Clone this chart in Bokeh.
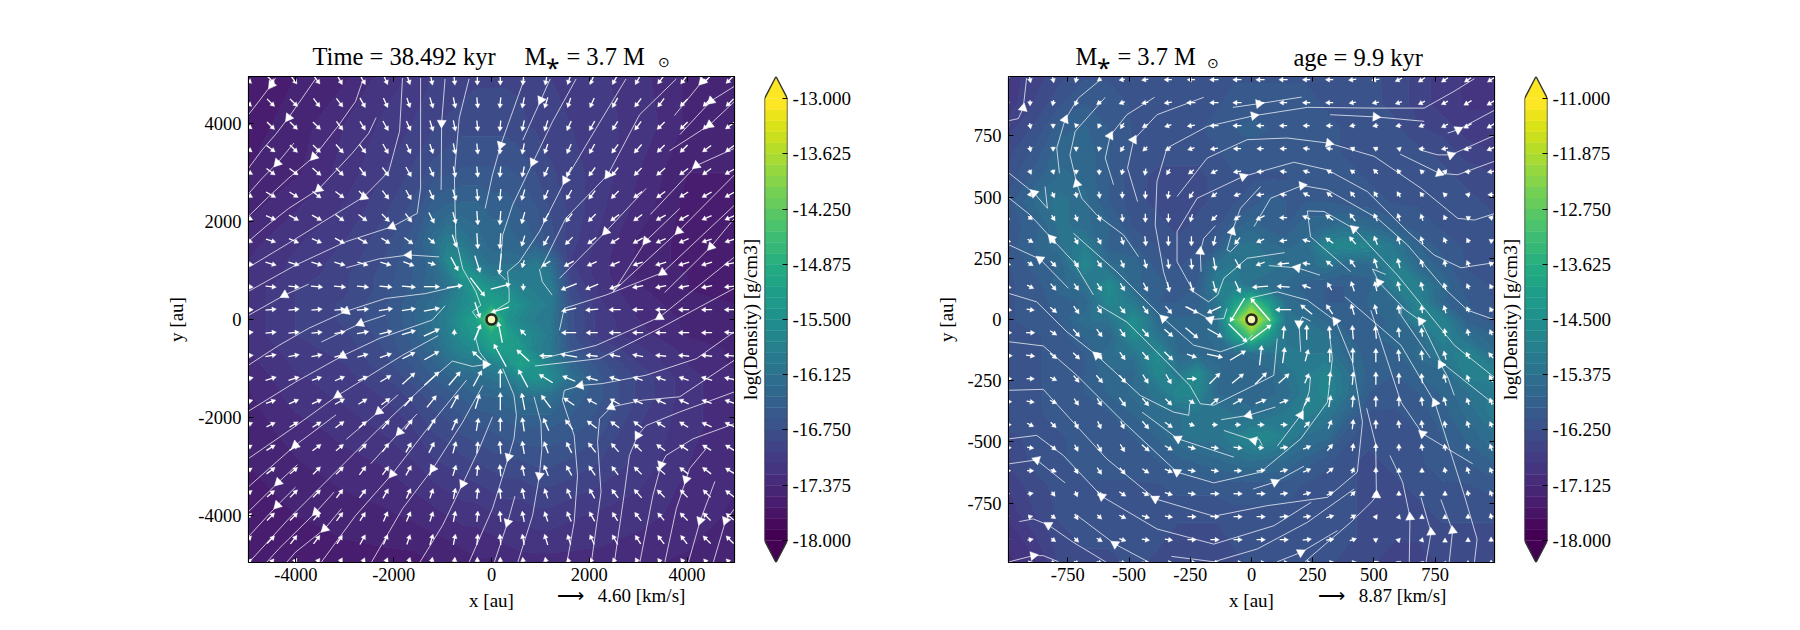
import numpy as np
from bokeh.embed import file_html
from bokeh.layouts import row
from bokeh.models import FixedTicker, Label, LinearAxis, Range1d
from bokeh.palettes import Viridis256, linear_palette
from bokeh.plotting import figure
from bokeh.resources import INLINE

FONT = "Liberation Serif"
FRAME = 486

# ---- left panel -------------------------------------------------------------
left_lim = 4970
left_ticks = [-4000, -2000, 0, 2000, 4000]
left_cb_labels = ["-18.000", "-17.375", "-16.750", "-16.125", "-15.500", "-14.875", "-14.250", "-13.625", "-13.000"]
left_nodes = [-4970, -4000, -3000, -2200, -1600, -1200, -900, -600, -300, 0, 300, 600, 900, 1200, 1600, 2200, 3000, 4000, 4970]
# log density, rows from y=+4970 down to y=-4970
left_density = [
    [-17.6,-17.5,-17.4,-17.2,-17.1,-17.0,-17.0,-16.95,-16.9,-16.9,-16.9,-16.9,-16.95,-17.0,-17.05,-17.1,-17.2,-17.4,-17.5],
    [-17.55,-17.45,-17.25,-17.1,-17.0,-16.9,-16.85,-16.8,-16.8,-16.8,-16.8,-16.85,-16.9,-16.95,-17,-17.1,-17.15,-17.4,-17.45],
    [-17.5,-17.4,-17.2,-17.0,-16.85,-16.7,-16.65,-16.6,-16.6,-16.6,-16.6,-16.65,-16.75,-16.85,-16.95,-17.05,-17.25,-17.5,-17.5],
    [-17.4,-17.25,-17.1,-16.9,-16.7,-16.4,-16.3,-16.3,-16.3,-16.4,-16.4,-16.5,-16.6,-16.75,-16.9,-17.1,-17.3,-17.55,-17.5],
    [-17.3,-17.15,-17,-16.8,-16.55,-16.2,-15.9,-16.0,-16.2,-16.3,-16.3,-16.4,-16.5,-16.7,-16.95,-17.15,-17.4,-17.55,-17.5],
    [-17.25,-17.1,-16.95,-16.75,-16.5,-16.3,-15.6,-15.6,-16,-16.2,-16.2,-16.2,-16.0,-16.2,-17,-17.2,-17.4,-17.55,-17.5],
    [-17.2,-17.1,-16.9,-16.7,-16.5,-16.3,-16.0,-15.3,-15.5,-15.9,-15.9,-15.95,-15.95,-16.0,-16.9,-17.2,-17.4,-17.5,-17.5],
    [-17.2,-17,-16.9,-16.7,-16.45,-16.3,-16.1,-15.7,-15.2,-15.4,-15.5,-15.8,-15.9,-15.9,-16.8,-17.15,-17.35,-17.5,-17.5],
    [-17.2,-17,-16.85,-16.65,-16.4,-16.2,-15.9,-15.6,-15.4,-15.1,-15.3,-15.5,-15.8,-15.9,-16.7,-17.1,-17.3,-17.45,-17.5],
    [-17.2,-17,-16.85,-16.65,-16.4,-16.1,-15.85,-15.4,-15.1,-13.8,-15.4,-15.7,-15.9,-16.0,-16.7,-17.05,-17.25,-17.4,-17.5],
    [-17.2,-17,-16.9,-16.7,-16.45,-16.15,-15.9,-15.5,-15.3,-15.0,-15.1,-15.5,-15.7,-15.95,-16.7,-17.05,-17.2,-17.4,-17.45],
    [-17.25,-17.05,-16.95,-16.75,-16.5,-16.3,-16,-15.7,-15.6,-15.2,-15.2,-15.3,-15.8,-16.0,-16.6,-16.9,-17.1,-17.3,-17.4],
    [-17.3,-17.1,-17,-16.8,-16.6,-16.4,-16.2,-16.0,-16.0,-15.8,-15.5,-15.1,-15.4,-15.8,-16.3,-16.7,-17,-17.25,-17.4],
    [-17.35,-17.15,-17.05,-16.9,-16.7,-16.5,-16.4,-16.3,-16.2,-16.1,-16,-15.6,-15.4,-15.6,-16.1,-16.6,-16.9,-17.2,-17.35],
    [-17.4,-17.2,-17.1,-17,-16.85,-16.7,-16.6,-16.5,-16.4,-16.4,-16.3,-16.2,-16.2,-16.2,-16.4,-16.6,-16.9,-17.2,-17.35],
    [-17.45,-17.3,-17.2,-17.1,-17,-16.85,-16.8,-16.7,-16.65,-16.6,-16.55,-16.5,-16.5,-16.5,-16.55,-16.7,-17,-17.2,-17.35],
    [-17.5,-17.4,-17.3,-17.25,-17.15,-17.05,-17,-16.95,-16.9,-16.85,-16.8,-16.8,-16.75,-16.75,-16.8,-16.9,-17.05,-17.25,-17.35],
    [-17.6,-17.5,-17.45,-17.4,-17.35,-17.3,-17.25,-17.2,-17.2,-17.15,-17.1,-17.1,-17.05,-17.05,-17.1,-17.15,-17.2,-17.3,-17.4],
    [-17.6,-17.6,-17.55,-17.55,-17.55,-17.5,-17.5,-17.45,-17.4,-17.4,-17.35,-17.3,-17.3,-17.3,-17.3,-17.3,-17.35,-17.4,-17.45],
]
# quiver, in pixels of arrow length, rows from the top
left_u = [
    [7,7,6,6,5,5,4,3,2,1,0,0,-1,-2,-3,-4,-5,-5,-6,-6,-7,-7],
    [7,7,7,6,6,5,4,3,3,2,1,-1,-2,-3,-3,-4,-5,-6,-6,-7,-7,-7],
    [8,7,7,7,6,5,5,4,3,2,1,-1,-2,-3,-4,-5,-5,-6,-7,-7,-7,-8],
    [8,8,7,7,7,6,5,4,3,2,1,-1,-2,-3,-4,-5,-6,-7,-7,-7,-8,-8],
    [9,8,8,8,7,6,6,5,4,2,1,-1,-2,-4,-5,-6,-6,-7,-8,-8,-8,-9],
    [9,9,8,8,8,7,6,5,4,3,1,-1,-3,-4,-5,-6,-7,-8,-8,-8,-9,-9],
    [9,9,9,9,8,8,7,6,5,3,1,-1,-3,-5,-6,-7,-8,-8,-9,-9,-9,-9],
    [9,9,9,9,9,9,8,8,6,4,1,-1,-3,-5,-7,-8,-8,-9,-9,-9,-9,-9],
    [10,10,10,10,10,10,10,10,7,7,5,-2,-2,-8,-9,-9,-9,-9,-10,-10,-10,-10],
    [10,10,10,11,11,11,12,13,15,15,14,19,0,0,-15,-12,-10,-10,-10,-10,-10,-10],
    [10,10,10,10,10,11,13,13,15,1,5,-17,-1,-1,-14,-12,-11,-10,-10,-10,-10,-10],
    [10,10,10,10,10,11,12,13,15,0,6,-4,-5,-1,-14,-11,-11,-10,-10,-10,-10,-10],
    [10,10,10,10,10,10,11,12,14,-1,-9,-12,-12,-12,-16,-11,-10,-10,-10,-10,-10,-10],
    [10,10,10,9,9,9,10,12,14,11,8,0,-9,-13,-12,-11,-10,-9,-9,-9,-10,-10],
    [9,9,9,9,9,8,8,8,9,7,4,0,-3,-9,-10,-9,-9,-9,-9,-9,-9,-9],
    [9,8,8,8,8,7,7,7,7,5,2,0,-2,-5,-7,-9,-8,-8,-8,-8,-9,-9],
    [8,8,8,8,7,7,6,5,5,3,1,-1,-2,-4,-5,-7,-7,-7,-8,-8,-8,-8],
    [8,8,7,7,7,6,6,5,4,3,1,-1,-2,-4,-5,-6,-6,-7,-8,-8,-8,-8],
    [8,7,7,7,6,6,5,4,3,2,1,-1,-2,-3,-4,-5,-6,-7,-7,-7,-7,-8],
    [7,7,7,6,6,5,4,4,3,2,1,-1,-2,-3,-4,-5,-5,-6,-6,-7,-7,-7],
    [7,7,6,6,5,5,4,3,3,2,1,-1,-2,-3,-3,-4,-5,-5,-6,-6,-7,-7],
    [7,6,6,6,5,4,4,3,2,1,0,0,-1,-2,-3,-4,-4,-5,-6,-6,-6,-7],
]
left_v = [
    [-7,-7,-8,-8,-9,-9,-9,-9,-10,-10,-10,-10,-10,-10,-9,-9,-9,-9,-8,-8,-7,-7],
    [-7,-7,-7,-8,-8,-9,-9,-9,-10,-10,-10,-10,-10,-10,-9,-9,-9,-8,-8,-7,-7,-7],
    [-6,-7,-7,-7,-8,-8,-9,-9,-10,-10,-10,-10,-10,-10,-9,-9,-8,-8,-7,-7,-7,-6],
    [-6,-6,-7,-7,-8,-8,-9,-9,-9,-10,-10,-10,-10,-9,-9,-9,-8,-8,-7,-7,-6,-6],
    [-5,-6,-6,-7,-7,-8,-8,-9,-9,-10,-10,-10,-10,-9,-9,-8,-8,-7,-7,-6,-6,-5],
    [-5,-5,-5,-6,-6,-7,-8,-9,-9,-10,-11,-11,-10,-9,-9,-8,-7,-6,-6,-5,-5,-5],
    [-4,-4,-5,-5,-6,-6,-7,-8,-10,-11,-13,-13,-11,-9,-8,-7,-6,-6,-5,-5,-4,-4],
    [-3,-3,-4,-4,-5,-5,-5,-6,-5,-12,-15,-15,-10,-9,-7,-6,-5,-5,-4,-4,-3,-3],
    [-2,-3,-3,-3,-3,-3,-3,-4,-2,-13,-16,-20,-7,-5,-5,-4,-4,-3,-3,-3,-3,-2],
    [-1,-1,-1,-1,-1,-1,-1,-1,0,2,-18,5,-6,-1,-6,-5,-4,-2,-2,-2,-2,-1],
    [0,1,1,1,1,1,2,2,3,0,-15,-5,0,0,-3,-1,0,0,0,0,0,0],
    [1,1,1,1,2,2,3,4,7,5,15,20,5,1,0,0,0,0,0,0,0,1],
    [1,2,2,2,3,3,4,6,8,1,8,22,11,0,3,1,2,2,1,1,1,1],
    [2,3,3,3,4,4,6,11,13,13,15,18,17,8,5,3,3,3,3,3,3,2],
    [3,3,4,4,5,5,6,9,11,13,14,17,16,12,7,5,5,4,4,4,3,3],
    [4,4,5,5,6,6,8,9,11,11,12,13,13,12,9,7,6,6,5,5,4,4],
    [5,5,5,6,6,7,8,9,10,11,11,12,12,11,10,9,8,7,6,5,5,5],
    [5,6,6,7,7,8,8,9,9,10,10,11,10,10,9,9,8,7,7,6,6,5],
    [6,6,7,7,8,8,9,9,9,10,10,10,10,9,9,9,8,8,7,7,7,6],
    [6,7,7,7,8,8,9,9,9,10,10,10,10,9,9,9,8,8,7,7,7,6],
    [7,7,8,8,8,9,9,9,10,10,10,10,10,10,9,9,9,8,8,8,7,7],
    [7,7,8,8,9,9,9,10,10,10,10,10,10,10,9,9,9,9,8,8,7,7],
]
left_streams = [
    [(-4420,4940),(-4500,4800),(-4760,4460),(-4970,4190)],
    [(-3600,4920),(-3870,4530),(-4150,4130),(-4420,3780),(-4690,3470),(-4980,3080)],
    [(-2640,4870),(-2780,4460),(-3120,3980),(-3630,3330),(-4150,2890),(-4560,2510),(-4980,2100)],
    [(-4040,3610),(-4380,3200),(-4690,2890),(-4980,2560)],
    [(-2360,4130),(-2510,3810),(-2850,3400),(-3530,2670),(-4150,2270),(-4620,1900),(-4980,1590)],
    [(-1820,4940),(-1880,3850),(-2100,3030),(-2610,2510),(-3330,2070),(-4150,1560),(-4980,1060)],
    [(-1450,4940),(-1450,2680),(-1520,2170),(-2030,1900),(-2980,1590),(-4010,1110),(-4980,570)],
    [(-3740,720),(-4230,500),(-4980,80)],
    [(-1070,1280),(-1690,1320),(-2300,1240),(-2970,1060)],
    [(-660,690),(-1350,530),(-2170,430),(-2970,170),(-3740,-180),(-4350,-530),(-4980,-940)],
    [(-2170,90),(-2680,-80),(-3480,-460)],
    [(-950,280),(-1210,-10),(-2300,-390),(-3040,-740),(-4010,-1280),(-4980,-1880)],
    [(-1090,-330),(-1820,-730),(-3140,-1550),(-4080,-2230),(-4980,-2850)],
    [(-3180,-1950),(-4010,-2570),(-4980,-3430)],
    [(-1910,-1540),(-2300,-1880),(-2970,-2450)],
    [(-1520,-1930),(-1880,-2300),(-2470,-2950)],
    [(-4980,-4990),(-4150,-4080),(-3260,-3190),(-2300,-2230),(-1480,-1450),(-800,-850),(-390,-960),(-120,-920),(-50,-950)],
    [(-3970,-2970),(-4360,-3330),(-4980,-3940)],
    [(-4010,-3430),(-4380,-3800),(-4980,-4450)],
    [(-3220,-3530),(-3590,-3940),(-4350,-4690),(-4620,-4990)],
    [(-3070,-3870),(-3410,-4280),(-4010,-4760),(-4210,-4990)],
    [(-180,-1350),(-590,-2100),(-1200,-3050),(-1820,-3870),(-2470,-4990)],
    [(-510,-1240),(-1210,-2100),(-2030,-3160),(-2780,-4010),(-3500,-4990)],
    [(20,-1990),(-250,-2640),(-590,-3360),(-1000,-4210),(-1480,-4990)],
    [(230,-1000),(460,-1550),(510,-1960),(460,-2440),(350,-2810),(20,-3870),(-470,-4990)],
    [(870,-1580),(1010,-2100),(1030,-2640),(980,-3190),(840,-4010),(530,-4990)],
    [(480,-3610),(330,-4150),(50,-4990)],
    [(4970,-250),(4190,-800),(3160,-1140),(2270,-1310),(1820,-1350),(1490,-1450),(1450,-1650),(1690,-2370),(1760,-3190),(1690,-4150),(1540,-4990)],
    [(4970,-830),(3850,-1580),(3090,-1650),(2450,-1790),(2210,-2030),(2170,-2510),(2240,-3530),(2040,-4990)],
    [(4970,-1480),(3850,-1890),(3160,-2170),(2990,-2370),(2820,-2780),(2720,-3530),(2510,-4990)],
    [(4970,-2130),(4120,-2440),(3570,-2780),(3470,-2970),(3300,-3600),(3030,-4990)],
    [(4390,-2640),(4050,-3050),(3980,-3270),(3780,-3870),(3540,-4990)],
    [(4570,-3310),(4270,-4110),(4020,-4990)],
    [(4970,-3870),(4790,-4110),(4530,-4990)],
    [(-950,4920),(-1020,4020),(-1030,2650)],
    [(-460,4920),(-660,4120),(-760,2960),(-730,1660),(-590,1040),(-320,570),(-220,290),(-390,160),(-290,20)],
    [(670,4920),(190,3570),(20,2960),(-130,2270)],
    [(1200,4920),(1010,4490),(640,3670)],
    [(1730,4920),(1250,4050),(850,3220),(430,2340),(230,1730),(160,940),(290,810)],
    [(2750,4920),(2140,3910),(1510,2850),(980,1800),(570,1180),(330,980),(360,570),(360,360),(50,170)],
    [(3780,4920),(3030,4190),(2380,2960),(1520,2070),(1010,1040)],
    [(4430,4920),(4310,4870),(3740,4170)],
    [(4970,4770),(4490,4470),(3850,3780)],
    [(4970,4460),(4460,3980),(3640,3450)],
    [(4970,3500),(4190,3150),(3250,2150)],
    [(3160,2680),(2340,1800),(1390,840)],
    [(4970,2960),(3830,1810),(2480,570)],
    [(4970,2070),(4490,1490),(3540,550)],
    [(3850,2270),(3160,1610),(2480,550)],
    [(4970,2340),(3500,960),(2340,500),(1490,230),(1390,-220)],
    [(4970,1280),(3440,50),(2140,-530),(1030,-800)],
    [(4970,640),(3500,-150),(2210,-800),(890,-950)],
    [(980,1030),(1040,770),(1240,500)],
    [(-220,-120),(-320,-390),(-250,-660),(-50,-920)],
]
# which vertex of each streamline carries its arrowhead (-1: none)
left_heads = [1,2,3,1,3,3,3,1,1,3,1,3,2,1,1,1,7,1,1,1,1,2,2,2,4,3,1,4,3,3,3,2,1,1,1,-1,1,1,2,2,2,1,1,1,1,1,1,1,1,1,1,-1,-1,-1]

# ---- right panel ------------------------------------------------------------
right_lim = 992
right_ticks = [-750, -500, -250, 0, 250, 500, 750]
right_cb_labels = ["-18.000", "-17.125", "-16.250", "-15.375", "-14.500", "-13.625", "-12.750", "-11.875", "-11.000"]
right_nodes = [-992, -880, -780, -680, -580, -480, -380, -300, -220, -140, -70, 0, 70, 140, 220, 300, 380, 480, 580, 680, 780, 880, 992]
right_density = [
    [-16.7,-16.5,-16.3,-16.1,-16.1,-16.1,-16.1,-16.1,-16.1,-16.1,-16.1,-16.1,-16.1,-16.1,-16.1,-16.2,-16.2,-16.2,-16.3,-16.5,-16.7,-16.8,-16.8],
    [-16.7,-16.4,-16.1,-15.9,-16.0,-16.1,-16.1,-16.1,-16.1,-16.1,-16.0,-16.0,-16.0,-16.0,-16.0,-16.1,-16.1,-16.2,-16.3,-16.5,-16.7,-16.8,-16.8],
    [-16.5,-16.2,-15.8,-15.7,-15.9,-16.1,-16.1,-16.1,-16.1,-16.0,-15.9,-15.8,-15.9,-16,-16,-16,-16.1,-16.2,-16.2,-16.4,-16.5,-16.7,-16.7],
    [-16.3,-16.0,-15.6,-15.6,-15.9,-16.1,-16.2,-16.2,-16.2,-16.1,-16,-16,-16,-16,-16,-16,-16.1,-16.1,-16.2,-16.2,-16.3,-16.5,-16.6],
    [-16.2,-15.8,-15.5,-15.6,-15.9,-16.2,-16.3,-16.3,-16.3,-16.2,-16.1,-16.1,-16.1,-16.1,-16.0,-16.0,-16.0,-16.1,-16.1,-16.1,-16.2,-16.3,-16.4],
    [-16.0,-15.5,-15.3,-15.5,-15.9,-16.2,-16.3,-16.3,-16.3,-16.2,-16.1,-16.0,-15.8,-15.9,-15.9,-15.9,-16.0,-16.0,-16.1,-16.1,-16.1,-16.2,-16.3],
    [-16.0,-15.8,-15.3,-15.5,-15.7,-16.1,-16.2,-16.3,-16.2,-16.1,-15.8,-15.6,-15.8,-15.9,-15.6,-15.6,-15.4,-15.6,-15.8,-16,-16.1,-16.1,-16.2],
    [-16.0,-15.7,-15.4,-15.0,-15.8,-15.9,-16.1,-16.2,-16.1,-15.9,-15.4,-15.3,-15.5,-15.6,-15.5,-14.8,-14.7,-14.8,-15.2,-15.7,-16,-16.1,-16.2],
    [-16.1,-15.8,-15.7,-14.7,-15.5,-15.6,-16.0,-16.1,-16,-15.3,-15.2,-15.3,-15.3,-15.4,-15.5,-15.3,-15.6,-15.6,-14.8,-15.6,-15.8,-16.1,-16.1],
    [-16.1,-16,-15.6,-15.4,-14.6,-15.7,-15.8,-16,-15.9,-15.0,-15.0,-15.4,-15.5,-15.6,-15.8,-15.9,-15.9,-15.8,-15.0,-15.0,-15.6,-16.0,-16.1],
    [-16.1,-16,-15.8,-15.7,-14.7,-15.2,-15.9,-15.9,-15.8,-15.3,-14.2,-12.9,-14.2,-15.4,-15.7,-15.9,-15.9,-15.7,-15.6,-14.8,-15.7,-15.9,-16.1],
    [-16.1,-16,-15.9,-15.4,-15.3,-14.5,-15.6,-15.7,-15.7,-15.4,-12.9,-11.05,-12.9,-15.3,-15.4,-15.6,-15.8,-15.8,-15.7,-14.9,-14.9,-15.8,-16],
    [-16.1,-16.1,-16,-15.7,-15.7,-14.6,-15.3,-15.6,-15.7,-15.4,-14.2,-12.9,-14.2,-15.3,-15.2,-15.3,-15.7,-15.8,-15.6,-15.6,-14.8,-15.4,-15.7],
    [-16.1,-16.1,-16,-15.9,-15.4,-15.3,-14.6,-15.6,-15.6,-15.6,-15.6,-15.5,-15.4,-15.1,-15.2,-15.2,-15.6,-15.8,-15.8,-15.5,-15.2,-14.8,-15.5],
    [-16.1,-16.1,-16,-15.9,-15.6,-15.6,-14.7,-15.2,-14.6,-15.5,-15.7,-15.7,-15.6,-15.3,-15.1,-14.8,-15.3,-15.8,-15.9,-15.7,-15.6,-14.9,-14.9],
    [-16.1,-16.1,-16,-15.9,-15.7,-15.5,-15.3,-14.7,-14.8,-15.6,-15.6,-15.7,-15.6,-15.5,-15.1,-14.7,-15.3,-15.9,-16,-15.9,-15.7,-15.4,-15.1],
    [-16.1,-16.1,-16,-16,-15.9,-15.7,-15.4,-15.4,-15.2,-15.2,-15.4,-15.5,-15.4,-15.2,-14.9,-15.2,-15.6,-16.1,-16.1,-16.0,-15.8,-15.5,-15.1],
    [-16.3,-16.2,-16.1,-16.0,-16,-15.9,-15.7,-15.4,-15.3,-15.3,-15.0,-14.7,-14.7,-15.0,-15.4,-15.5,-16.0,-16.2,-16.1,-16.1,-15.9,-15.7,-15.4],
    [-16.4,-16.2,-16.1,-16,-16,-16,-15.9,-15.8,-15.7,-15.6,-15.5,-15.4,-15.5,-15.6,-15.8,-16,-16.2,-16.3,-16.2,-16.1,-16,-15.9,-15.7],
    [-16.6,-16.3,-16.2,-16.1,-16.1,-16.1,-16.1,-16,-16,-16,-16,-16,-16,-16,-16.1,-16.2,-16.2,-16.3,-16.3,-16.2,-16.1,-16.1,-16],
    [-16.7,-16.4,-16.2,-16.1,-16.1,-16.2,-16.2,-16.2,-16.2,-16.2,-16.1,-16.1,-16.1,-16.1,-16.2,-16.2,-16.2,-16.3,-16.3,-16.3,-16.2,-16.2,-16.2],
    [-16.9,-16.6,-16.3,-16.2,-16.2,-16.2,-16.2,-16.3,-16.3,-16.3,-16.2,-16.2,-16.2,-16.2,-16.2,-16.2,-16.2,-16.3,-16.4,-16.4,-16.3,-16.3,-16.3],
    [-17,-16.8,-16.4,-16.3,-16.3,-16.2,-16.3,-16.3,-16.3,-16.3,-16.3,-16.2,-16.2,-16.2,-16.2,-16.2,-16.3,-16.4,-16.5,-16.5,-16.4,-16.3,-16.3],
]
right_uv = [
    [(0,-2),(1,-5),(1,-5),(-1,-5),(-3,-2),(-5,-1),(-6,-1),(-7,0),(-7,0),(-8,0),(-8,0),(-8,0),(-8,0),(-7,0),(-7,0),(-7,-1),(-7,-1),(-6,-3),(-6,-4),(-6,-4),(-6,-4),(-6,-4)],
    [(1,-6),(0,-5),(-1,-5),(-2,-5),(-4,-3),(-5,-2),(-6,-1),(-7,-1),(-8,0),(-8,0),(-8,0),(-8,0),(-7,0),(-7,0),(-7,0),(-6,-1),(-6,-1),(-6,-2),(-6,-3),(-6,-3),(-7,-4),(-7,-4)],
    [(1,-4),(1,-5),(0,-4),(-1,-3),(-2,-4),(-3,-5),(-5,-3),(-6,-2),(-7,-1),(-8,0),(-8,0),(-7,0),(-7,0),(-6,0),(-6,0),(-5,-1),(-5,-1),(-5,-1),(-5,-2),(-6,-3),(-7,-4),(-7,-4)],
    [(2,-3),(1,-5),(0,-4),(0,-4),(-1,-4),(-3,-5),(-4,-4),(-5,-3),(-6,-2),(-7,-1),(-7,0),(-6,0),(-6,0),(-6,1),(-6,1),(-4,2),(-4,2),(-3,1),(-5,0),(-6,-1),(-7,-2),(-7,-3)],
    [(2,-4),(2,-4),(1,-4),(0,-4),(0,-5),(-1,-5),(-1,-6),(-3,-5),(-5,-4),(-6,-3),(-7,-1),(-6,0),(-6,1),(-6,2),(-5,3),(-4,3),(-4,4),(-3,4),(-3,3),(-4,1),(-5,0),(-6,-1)],
    [(3,-3),(2,-3),(2,-5),(1,-5),(1,-6),(0,-6),(0,-7),(-1,-7),(-4,-6),(-5,-4),(-6,-2),(-7,-1),(-6,1),(-6,3),(-5,4),(-4,5),(-3,5),(-3,5),(-3,4),(-3,3),(-4,1),(-5,0)],
    [(4,-3),(4,-3),(3,-5),(2,-6),(2,-6),(1,-7),(0,-8),(0,-8),(-2,-7),(-5,-5),(-6,-4),(-8,-4),(-7,0),(-7,3),(-7,5),(-5,7),(-3,7),(-2,7),(-2,6),(-2,4),(-3,2),(-4,1)],
    [(6,-2),(5,-3),(4,-5),(3,-6),(3,-6),(2,-7),(1,-9),(0,-9),(0,-9),(-2,-9),(-5,-6),(-7,-3),(-7,-1),(-7,2),(-7,5),(-6,7),(-3,8),(-2,7),(-2,7),(-2,5),(-2,4),(-3,2)],
    [(6,-2),(5,-3),(5,-5),(4,-6),(4,-6),(3,-7),(2,-8),(1,-9),(1,-10),(2,-12),(5,-9),(-8,-3),(-11,-1),(-7,1),(-6,5),(-5,7),(-3,9),(-2,9),(-2,7),(-1,6),(-2,5),(-3,3)],
    [(7,-2),(6,-3),(5,-6),(4,-6),(4,-7),(4,-7),(4,-8),(2,-9),(3,-10),(3,-11),(5,-11),(-15,-1),(-12,1),(-8,3),(-4,7),(-3,9),(-2,9),(-2,9),(-2,8),(-2,6),(-2,5),(-2,4)],
    [(8,-1),(7,-1),(6,-5),(5,-7),(4,-6),(5,-6),(5,-7),(6,-7),(12,-6),(-13,-6),(-14,-23),(-19,22),(-15,0),(-11,9),(-6,9),(-3,10),(-2,9),(-1,8),(-1,7),(-2,7),(-2,5),(-2,4)],
    [(8,0),(8,0),(6,-4),(6,-7),(5,-7),(5,-7),(6,-7),(8,-7),(12,-10),(14,-8),(18,-18),(20,15),(1,12),(0,14),(-1,12),(-1,13),(-1,12),(-1,9),(-1,8),(-1,7),(-1,6),(-2,5)],
    [(9,0),(8,-1),(6,-5),(6,-6),(5,-6),(5,-7),(6,-7),(8,-8),(9,-3),(15,-3),(15,9),(2,19),(2,15),(3,11),(0,13),(0,14),(0,13),(-1,11),(-1,9),(-2,8),(-3,6),(-4,5)],
    [(8,0),(7,0),(6,-3),(5,-6),(6,-7),(6,-7),(5,-8),(5,-9),(9,0),(10,10),(11,9),(11,11),(10,9),(4,9),(1,12),(1,12),(0,12),(0,10),(-1,9),(-2,8),(-2,6),(-3,6)],
    [(8,0),(7,-1),(6,-3),(4,-6),(4,-7),(6,-8),(6,-7),(6,-6),(5,-3),(7,6),(9,5),(10,4),(8,3),(5,8),(2,11),(1,11),(0,10),(0,9),(-1,8),(-2,8),(-2,6),(-2,6)],
    [(7,0),(6,-3),(5,-5),(3,-7),(3,-7),(3,-7),(6,-7),(7,-5),(5,-2),(5,0),(5,0),(6,0),(6,0),(5,5),(3,8),(1,9),(0,8),(-1,7),(-1,7),(-1,6),(-2,6),(-2,5)],
    [(7,0),(6,-1),(5,-4),(3,-6),(4,-7),(4,-7),(7,-6),(7,-4),(7,-2),(7,-1),(8,-1),(5,0),(7,1),(7,3),(5,6),(1,7),(0,7),(0,6),(-1,6),(-1,6),(-2,6),(-2,6)],
    [(6,0),(6,0),(5,-2),(3,-5),(4,-6),(5,-6),(6,-4),(7,-3),(7,-1),(7,-1),(7,0),(8,1),(7,2),(7,3),(6,5),(2,5),(0,5),(0,4),(0,4),(-1,5),(-2,6),(-2,5)],
    [(4,0),(5,1),(3,-4),(2,-5),(4,-5),(6,-4),(6,-3),(7,-2),(7,-1),(8,0),(8,0),(8,0),(7,1),(7,2),(6,3),(4,4),(1,4),(0,4),(0,3),(0,4),(-1,5),(-2,5)],
    [(3,1),(4,1),(4,-3),(3,-5),(4,-4),(6,-3),(7,-2),(7,-1),(8,0),(8,0),(8,0),(8,0),(8,1),(7,1),(7,2),(5,3),(2,3),(1,3),(0,3),(0,3),(0,4),(-1,5)],
    [(3,1),(5,1),(4,-3),(4,-4),(5,-3),(6,-2),(7,-1),(7,-1),(8,0),(8,0),(8,0),(8,0),(8,0),(8,1),(7,1),(6,2),(3,2),(2,2),(1,3),(0,2),(0,3),(0,4)],
    [(3,1),(4,1),(4,-1),(4,-3),(5,-2),(6,-1),(7,-1),(7,0),(8,0),(8,0),(8,0),(8,0),(8,0),(8,0),(7,1),(6,1),(4,2),(3,2),(2,2),(1,2),(0,3),(0,4)],
]
right_streams = [
    [(-989,812),(-952,820),(-932,863),(-918,986)],
    [(-784,597),(-795,700),(-761,816),(-707,904),(-611,983)],
    [(-461,256),(-522,345),(-632,427),(-693,495),(-713,554),(-741,672),(-720,768),(-597,907)],
    [(-563,550),(-597,659),(-577,750),(-509,836),(-396,907)],
    [(-465,481),(-506,618),(-481,734),(-386,836),(-195,907)],
    [(-334,113),(-359,195),(-393,386),(-386,563),(-345,700),(-181,788),(10,832),(228,866),(501,863),(705,863),(828,932),(910,983)],
    [(-76,866),(30,881),(205,908)],
    [(321,836),(507,827),(705,809)],
    [(801,761),(844,775),(997,857)],
    [(-304,502),(-181,659),(-18,734),(146,741),(316,720),(501,666),(692,536),(842,413),(910,406),(997,434)],
    [(685,693),(760,672),(814,672),(997,754)],
    [(607,675),(767,597),(842,591),(997,648)],
    [(135,273),(-18,250),(-113,168),(-138,100),(-175,72),(-236,113),(-304,236),(-304,359),(-222,495),(-34,584),(173,642),(310,611),(473,522),(637,359),(746,263),(855,211),(997,233)],
    [(10,379),(78,495),(207,547),(310,529),(514,413),(637,304),(787,127),(882,38),(997,-3)],
    [(-52,311),(-86,277),(-100,284),(-79,359),(-45,454),(37,543)],
    [(-206,195),(-209,277),(-195,331),(-147,383)],
    [(-843,543),(-833,454),(-888,516),(-989,597)],
    [(-645,100),(-727,236),(-816,331),(-904,427),(-989,495)],
    [(-747,127),(-863,246),(-989,304)],
    [(-252,-344),(-256,-391),(-318,-378),(-454,-310),(-632,-146),(-754,-50),(-877,72),(-989,106)],
    [(3,-64),(-31,-98),(-127,-132),(-236,-105),(-359,4),(-550,195),(-727,352)],
    [(105,-78),(91,-228),(10,-269),(-154,-350),(-209,-344),(-252,-269),(-359,-160),(-509,-10),(-625,59)],
    [(310,-726),(432,-623),(453,-419),(412,-173),(344,-7),(228,79),(105,113),(0,89)],
    [(310,-726),(64,-760),(-154,-803),(-393,-732),(-591,-569),(-741,-405),(-850,-285),(-989,-289)],
    [(316,-37),(330,-160),(310,-337),(201,-487),(37,-623),(-154,-667),(-304,-623),(-522,-419),(-713,-228),(-850,-108),(-989,-91)],
    [(7,-692),(95,-664),(214,-599)],
    [(218,-989),(405,-828),(495,-740),(510,-717),(507,-510),(470,-362)],
    [(644,-992),(647,-807),(617,-664),(565,-555)],
    [(712,-992),(733,-869),(692,-726)],
    [(807,-992),(821,-862),(773,-735)],
    [(903,-589),(698,-466),(610,-337),(487,38)],
    [(910,-992),(921,-896),(869,-719),(749,-340),(610,-105),(381,93)],
    [(828,-310),(801,-235),(773,-184)],
    [(997,-351),(773,-173),(692,-7),(610,52),(610,18),(730,-157)],
    [(623,45),(521,151),(494,206),(548,184)],
    [(997,-241),(828,-105),(596,181),(419,370),(296,441),(228,443),(241,338),(405,195)],
    [(244,-746),(91,-842),(-154,-917),(-386,-855),(-611,-722),(-768,-555),(-877,-473),(-989,-487)],
    [(-72,-562),(-300,-487),(-447,-378)],
    [(-761,-667),(-877,-573),(-989,-589)],
    [(-591,-992),(-727,-910),(-829,-839),(-891,-814),(-948,-825)],
    [(-413,-994),(-557,-917),(-720,-794)],
    [(-989,-989),(-891,-964),(-850,-964),(-788,-989)],
    [(105,-517),(201,-391),(235,-296),(241,-235),(221,-228)],
    [(241,-7),(207,11),(194,-16),(201,-132)],
    [(44,-514),(30,-487),(10,-494),(-113,-453)],
    [(98,-357),(-11,-391),(-124,-409)],
    [(105,-989),(201,-951),(351,-862)],
    [(-327,-967),(-154,-989),(23,-937),(228,-828),(419,-692)],
    [(-100,45),(-113,4),(-168,0),(-263,52)],
    [(280,181),(187,211),(71,220)],
]
right_heads = [2,2,4,2,2,6,1,1,1,4,2,1,9,2,3,1,2,2,1,4,4,-1,4,3,6,1,3,1,1,1,1,3,2,2,1,3,4,1,1,2,1,1,1,2,2,1,1,-1,2,1]


def make_panel(lim, ticks, nodes, density, u, v, streams, heads, left_border, x0, y0, dx, dy, vmax):
    scale = 2 * lim / FRAME  # au per pixel
    p = figure(frame_width=FRAME, frame_height=FRAME, x_range=Range1d(-lim, lim), y_range=Range1d(-lim, lim),
               min_border_left=left_border, min_border_right=6, min_border_top=76, min_border_bottom=54,
               output_backend="svg", toolbar_location=None)
    p.grid.visible = False
    p.outline_line_color = "black"
    p.outline_line_width = 1.2

    # density, contoured like the original's filled levels
    levels = np.linspace(-18, vmax, 41)
    z = np.clip(np.array(density)[::-1], -17.999, vmax - 0.001)
    p.contour(nodes, nodes, z, levels, fill_color=linear_palette(Viridis256, 40),
              line_color=linear_palette(Viridis256, 41), line_width=1.2)

    # streamlines
    p.multi_line([[q[0] for q in s] for s in streams], [[q[1] for q in s] for s in streams],
                 line_color="white", line_alpha=0.8, line_width=0.9)
    hx, hy, ha = [], [], []
    for s, h in zip(streams, heads):
        if h < 0:
            continue
        a, b = s[max(h - 1, 0)], s[min(h + 1, len(s) - 1)]
        hx.append(s[h][0])
        hy.append(s[h][1])
        ha.append(np.arctan2(b[1] - a[1], b[0] - a[0]) - np.pi / 2)
    p.scatter(hx, hy, marker="triangle", size=9, angle=ha, fill_color="white", line_color="white", line_width=0.5)

    # quiver
    u, v = np.array(u, float), np.array(v, float)
    qx = x0 + dx * np.arange(22)
    qy = y0 - dy * np.arange(22)
    gx, gy = np.meshgrid(qx, qy)
    keep = np.hypot(u, v) > 1.5
    length = np.hypot(u, v)[keep]
    gx, gy, uu, vv = gx[keep], gy[keep], u[keep], v[keep]
    p.segment(gx - uu * scale / 2, gy - vv * scale / 2, gx + uu * scale * (0.5 - 2 / length), gy + vv * scale * (0.5 - 2 / length),
              line_color="white", line_width=1.3)
    p.scatter(gx + uu * scale * (0.5 - 2 / length), gy + vv * scale * (0.5 - 2 / length), marker="triangle", size=5,
              angle=np.arctan2(vv, uu) - np.pi / 2, fill_color="white", line_color="white", line_width=0.3)

    # the star
    p.scatter([0], [0], size=10, fill_color="#f6f6b4", line_color="#262626", line_width=2.6)

    ax = [p.xaxis[0], p.yaxis[0]]
    for a in ax:
        a.ticker = FixedTicker(ticks=ticks)
        a.major_label_overrides = {t: str(t) for t in ticks}
        a.major_label_text_font = FONT
        a.major_label_text_font_size = "18.5px"
        a.major_label_text_color = "black"
        a.axis_label_text_font = FONT
        a.axis_label_text_font_size = "19px"
        a.axis_label_text_font_style = "normal"
        a.axis_label_text_color = "black"
    p.xaxis.axis_label = "x [au]"
    p.yaxis.axis_label = "y [au]"
    p.xaxis.major_label_standoff = 5
    p.yaxis.major_label_standoff = 7
    p.xaxis.axis_label_standoff = 6
    p.yaxis.axis_label_standoff = 8
    for side in ("above", "right"):
        a = LinearAxis(ticker=FixedTicker(ticks=ticks), major_label_overrides={t: "" for t in ticks}, major_label_standoff=0)
        p.add_layout(a, side)
        ax.append(a)
    for a in ax:
        a.major_tick_in = 5
        a.major_tick_out = 0
        a.minor_tick_line_color = None
        a.axis_line_color = "black"
        a.major_tick_line_color = "black"
    return p, scale


def side_text(p, side, x, y, s, size):
    # labels in the center panel get cut off at the frame, so these live in the side panels,
    # which stack one above the other: y has to make up for the ones before it
    p.add_layout(Label(x=x, y=y, y_units="screen", text=s, text_font=FONT, text_font_size=size,
                       text_align="left", text_baseline="middle", text_color="black"), side)


def make_colorbar(labels, vmax):
    tip = (vmax + 18) * 0.05
    levels = np.linspace(-18, vmax, 41)
    colors = linear_palette(Viridis256, 40)
    ticks = list(np.linspace(-18, vmax, 9))
    cb = figure(frame_width=23, frame_height=FRAME, x_range=Range1d(0, 1), y_range=Range1d(-18 - tip, vmax + tip),
                min_border_left=24, min_border_right=103, min_border_top=76, min_border_bottom=54,
                x_axis_location=None, y_axis_location="right", output_backend="svg", toolbar_location=None)
    cb.grid.visible = False
    cb.outline_line_color = None
    cb.quad(left=0, right=1, bottom=levels[:-1], top=levels[1:], fill_color=colors, line_color=colors, line_width=0.4)
    cb.patch([0, 0.5, 1], [vmax, vmax + tip, vmax], fill_color=colors[-1], line_color=None)
    cb.patch([0, 0.5, 1], [-18, -18 - tip, -18], fill_color=colors[0], line_color=None)
    cb.line([0, 0, 0.5, 1, 1, 0.5, 0], [vmax, -18, -18 - tip, -18, vmax, vmax + tip, vmax], line_color="#333333", line_width=1.4)
    a = cb.yaxis[0]
    a.ticker = FixedTicker(ticks=ticks)
    a.major_label_overrides = dict(zip(ticks, labels))
    a.major_label_text_font = FONT
    a.major_label_text_font_size = "19px"
    a.major_label_text_color = "black"
    a.major_label_standoff = 5
    a.major_tick_in = 5
    a.major_tick_out = 0
    a.major_tick_line_color = "black"
    a.minor_tick_line_color = None
    a.axis_line_color = None
    cb.add_layout(Label(x=7, y=(vmax - 18) / 2, x_units="screen", text="log(Density) [g/cm3]", text_font=FONT, text_font_size="19px",
                        text_align="center", text_baseline="middle", text_color="black", angle=np.pi / 2), "left")
    return cb


# frame corners in the page: left panel starts at x=248, right at x=1008, bottom at y=562
left, ls = make_panel(left_lim, left_ticks, left_nodes, left_density, left_u, left_v, left_streams, left_heads,
                      248, -4990, 4911, 470, 471, -13)
right, rs = make_panel(right_lim, right_ticks, right_nodes, right_density,
                       [[q[0] for q in r] for r in right_uv], [[q[1] for q in r] for r in right_uv],
                       right_streams, right_heads, 118, -998, 979, 94.1, 93.9, -11)
lx = lambda px: -left_lim + (px - 248) * ls
rx = lambda px: -right_lim + (px - 1008) * rs

side_text(left, "above", lx(312), 20, "Time = 38.492 kyr", "24.5px")
side_text(left, "above", lx(524), -7, "M\u204e = 3.7 M", "24.5px")
side_text(left, "above", lx(657), -40, "\u2299", "14px")
side_text(left, "below", lx(556), 39, "\u27f6\u00a0\u00a0\u00a04.60 [km/s]", "19px")

side_text(right, "above", rx(1075), 20, "M\u204e = 3.7 M", "24.5px")
side_text(right, "above", rx(1206), -14, "\u2299", "14px")
side_text(right, "above", rx(1293), -23, "age = 9.9 kyr", "24.5px")
side_text(right, "below", rx(1317), 39, "\u27f6\u00a0\u00a0\u00a08.87 [km/s]", "19px")

page = row(left, make_colorbar(left_cb_labels, -13), right, make_colorbar(right_cb_labels, -11), spacing=0)
open("out.html", "w").write(file_html(page, INLINE))
